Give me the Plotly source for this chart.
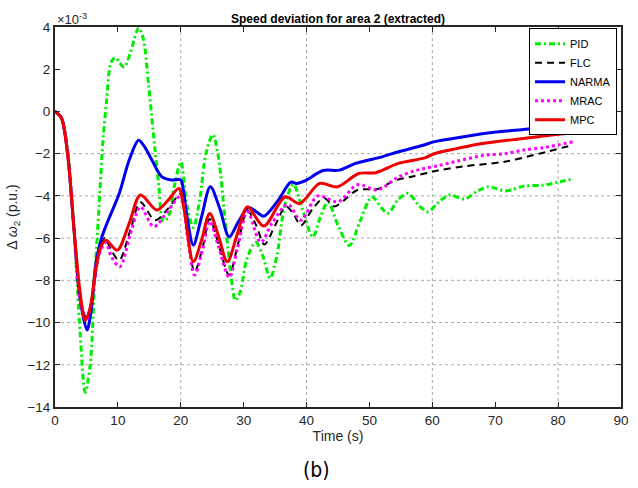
import plotly.graph_objects as go

# ---------------- data (time in s, deviation in 1e-3 p.u.) ----------------
pid_t = [0, 1, 2, 3, 4, 4.8, 5.6, 6.3, 7, 7.6, 8.2, 8.9, 9.6, 10.3, 11, 12, 13.3, 14, 14.9, 15.9,
         16.5, 17.2, 18, 19, 20, 21, 22, 23, 24, 25.1, 26, 27, 28, 28.7, 29.5, 30.5, 31.9, 33,
         34.2, 35.3, 36.5, 37.9, 39.5, 41, 42.2, 43.4, 45, 46.8, 48.5, 50.4, 52, 53, 54.5, 56.1,
         58, 59.3, 61, 62.7, 65.1, 67, 69, 71.6, 74.5, 77.6, 80, 82.3]
pid_v = [0, -0.3, -1.8, -5.5, -10.5, -13.3, -12.0, -8.0, -4.5, -1.5, 0.5, 2.3, 2.55, 2.3, 2.1, 2.8,
         3.95, 3.5, 1.2, -1.8, -3.5, -5.2, -5.0, -3.5, -2.4, -4.5, -5.5, -4.2, -2.0, -1.1, -2.2,
         -5.0, -7.8, -8.95, -8.5, -7.0, -6.2, -6.8, -7.9, -6.8, -4.5, -3.45, -4.8, -5.95, -5.0,
         -4.3, -5.4, -6.35, -5.2, -4.05, -4.6, -4.82, -4.2, -3.88, -4.5, -4.75, -4.3, -3.96,
         -4.15, -3.8, -3.57, -3.77, -3.54, -3.49, -3.35, -3.2]

flc_t = [0, 1, 2, 3, 4, 5, 6, 7, 7.9, 9, 10.2, 12, 13.6, 15.9, 18, 20, 21, 22.2, 23.5, 24.6, 26,
         27.7, 29, 30.6, 32, 33.3, 35, 36.7, 38, 39.1, 41, 42.8, 44.4, 46, 48.1, 51.3, 54, 56.7,
         60.9, 65, 71.5, 77, 82.3]
flc_v = [0, -0.3, -2.0, -5.5, -8.8, -9.8, -8.6, -6.8, -6.0, -6.6, -7.05, -5.6, -4.3, -5.15, -4.6,
         -3.9, -5.6, -7.6, -6.4, -5.1, -6.3, -7.75, -6.4, -4.7, -5.4, -6.3, -5.4, -4.5, -4.9,
         -5.4, -4.6, -4.1, -4.5, -4.2, -3.72, -3.67, -3.28, -3.09, -2.8, -2.6, -2.38, -2.0, -1.59]

narma_t = [0, 1, 2, 3, 4, 5.1, 5.8, 6.5, 7.4, 8.4, 10.2, 11.8, 13.3, 14.3, 15.4, 17, 18.5, 20.0,
           20.4, 21, 22, 23.3, 24.7, 26.2, 27.7, 29.2, 30.8, 32, 33.2, 35.5, 37.5, 38.4, 40, 42.6,
           45.2, 47.8, 52, 54.6, 58.5, 60.4, 64, 68.2, 74.5, 78, 82.3]
narma_v = [0, -0.3, -2.0, -5.5, -8.9, -10.35, -9.3, -7.2, -6.0, -5.2, -3.9, -2.3, -1.36, -1.7,
           -2.3, -3.1, -3.25, -3.25, -3.7, -5.0, -6.33, -5.0, -3.57, -4.6, -5.94, -5.2, -4.55,
           -4.75, -4.96, -4.2, -3.35, -3.41, -3.25, -2.8, -2.78, -2.46, -2.15, -1.91, -1.6, -1.43,
           -1.25, -1.04, -0.85, -0.74, -0.62]

mrac_t = [0, 1, 2, 3, 4, 5, 6, 7, 8, 9, 10.3, 12, 13.6, 15.7, 18, 20, 21, 22.2, 23.5, 24.6, 26,
          27.7, 29, 30.6, 32.7, 34.5, 37, 39.1, 41.8, 45, 48.1, 51.3, 54.5, 57.2, 60.9, 64, 68.2,
          71.5, 74.5, 78, 82.3]
mrac_v = [0, -0.3, -2.0, -5.5, -8.9, -9.9, -8.6, -6.8, -6.2, -6.9, -7.36, -5.8, -4.52, -5.46,
          -4.7, -4.0, -5.8, -7.75, -6.5, -5.2, -6.4, -7.86, -6.5, -4.75, -6.2, -5.3, -4.4, -5.15,
          -4.0, -4.28, -3.47, -3.72, -3.12, -2.81, -2.57, -2.35, -2.08, -2.0, -1.83, -1.7, -1.44]

mpc_t = [0, 1, 2, 3, 4, 4.8, 5.6, 6.5, 7.3, 8.1, 9.9, 11.8, 13.6, 16.2, 18, 19.7, 20.5, 22, 23.3,
         24.6, 26, 27.4, 29, 30.6, 33.2, 36.6, 38.9, 42.1, 44.9, 48.3, 51, 54.6, 58.8, 60.4, 64,
         68.2, 74.5, 78, 82.3]
mpc_v = [0, -0.3, -2.0, -5.5, -8.6, -9.9, -9.3, -7.4, -6.4, -6.1, -6.57, -5.3, -3.96, -4.67,
         -4.2, -3.65, -4.6, -7.12, -6.1, -4.83, -5.9, -7.12, -5.8, -4.52, -5.43, -4.04, -4.36,
         -3.41, -3.57, -2.94, -2.9, -2.46, -2.2, -1.99, -1.75, -1.51, -1.28, -1.15, -1.02]

series = [
    ("PID", pid_t, pid_v, "#00ee00", "6px,3px,2px,3px", 3),
    ("FLC", flc_t, flc_v, "#000000", "7px,5px", 2),
    ("NARMA", narma_t, narma_v, "#0000ee", "solid", 3),
    ("MRAC", mrac_t, mrac_v, "#ff00ff", "dot", 3),
    ("MPC", mpc_t, mpc_v, "#ee0000", "solid", 3),
]

x_grid = [20, 40, 60, 80]
y_grid = [-12, -10, -8, -6, -4, -2]

FONT = "Liberation Sans, Arial, sans-serif"

fig = go.Figure()
for name, t, v, color, dash, w in series:
    fig.add_trace(go.Scatter(
        x=t, y=v, name=name, mode="lines",
        line=dict(color=color, dash=dash, width=w, shape="spline", smoothing=0.9),
    ))

for gx in x_grid:
    fig.add_shape(type="line", xref="x", yref="paper", x0=gx, x1=gx, y0=0, y1=1,
                  line=dict(color="#a8a8a8", width=1, dash="dot"), layer="below")
for gy in y_grid:
    fig.add_shape(type="line", xref="paper", yref="y", x0=0, x1=1, y0=gy, y1=gy,
                  line=dict(color="#a8a8a8", width=1, dash="dot"), layer="below")

fig.update_layout(
    width=638, height=488,
    margin=dict(l=55, r=9, t=27, b=81),
    paper_bgcolor="white", plot_bgcolor="white",
    font=dict(family=FONT, size=13, color="#262626"),
    title=dict(text="<b>Speed deviation for area 2 (extracted)</b>", x=0.5, xref="paper",
               xanchor="center", y=1, yref="paper", yanchor="bottom", pad=dict(b=4),
               font=dict(family=FONT, size=12, color="#000000")),
    showlegend=True,
    legend=dict(x=0.993, y=0.997, xanchor="right", yanchor="top",
                bgcolor="white", bordercolor="#000000", borderwidth=1,
                font=dict(family=FONT, size=11, color="#000000"),
                tracegroupgap=0, itemwidth=30),
)
fig.update_xaxes(range=[0, 90], dtick=10, tick0=0, ticks="inside", ticklen=5,
                 tickcolor="#262626", showline=True, linecolor="#262626", linewidth=2,
                 mirror="ticks", showgrid=False, zeroline=False,
                 tickfont=dict(size=13.5),
                 title=dict(text="Time (s)", standoff=2, font=dict(size=14)))
fig.update_yaxes(range=[-14, 4], dtick=2, tick0=0, ticks="inside", ticklen=5,
                 tickcolor="#262626", showline=True, linecolor="#262626", linewidth=2,
                 mirror="ticks", showgrid=False, zeroline=False,
                 tickfont=dict(size=13.5),
                 title=dict(text="Δ <i>ω</i><sub>2</sub> (p.u.)", standoff=6, font=dict(size=14)))

fig.add_annotation(text="×10<sup>-3</sup>", xref="paper", yref="paper", x=0.0, y=1.0,
                   xanchor="left", yanchor="bottom", showarrow=False, yshift=-2,
                   font=dict(family=FONT, size=13, color="#262626"))
fig.add_annotation(text="(b)", xref="paper", yref="paper", x=(320 - 55) / 574, y=-0.13,
                   xanchor="center", yanchor="top", showarrow=False,
                   font=dict(family="DejaVu Sans Condensed, Liberation Sans Narrow, sans-serif",
                             size=21, color="#000000"))

fig.write_html("out.html")
